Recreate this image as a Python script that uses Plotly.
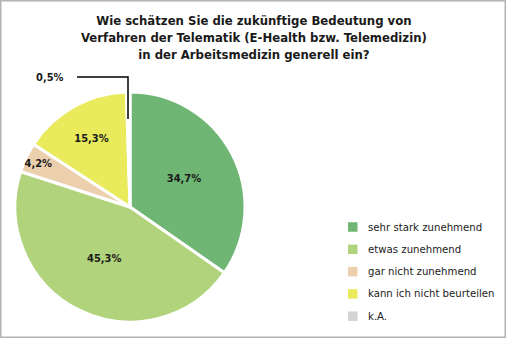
import plotly.graph_objects as go

title_lines = ["Wie schätzen Sie die zukünftige Bedeutung von",
               "Verfahren der Telematik (E-Health bzw. Telemedizin)",
               "in der Arbeitsmedizin generell ein?"]
categories = ["sehr stark zunehmend", "etwas zunehmend", "gar nicht zunehmend",
              "kann ich nicht beurteilen", "k.A."]
values = [34.7, 45.3, 4.2, 15.3, 0.5]
colors = ["#6fb573", "#b0d37b", "#ecd0ae", "#e9ea5c", "#d3d3d3"]

FONT = "DejaVu Sans Condensed, Liberation Sans, sans-serif"
W, H = 506, 338

templates = ["%{value:.1f}%" if v >= 1 else "" for v in values]

fig = go.Figure(go.Pie(
    labels=categories, values=values, sort=False, direction="clockwise", rotation=0,
    marker=dict(colors=colors, line=dict(color="white", width=3)),
    texttemplate=templates, textposition="inside", insidetextorientation="horizontal",
    textfont=dict(family=FONT, size=11, color="#1a1a1a", weight="bold"),
    hoverinfo="label+percent",
    domain=dict(x=[15 / W, 245 / W], y=[(H - 322) / H, (H - 92) / H]),
))

small = [f"{v:.1f}".replace(".", ",") + "%" for v in values if v < 1][0]

annotations = [
    dict(text="<br>".join(title_lines), x=254 / W, y=(H - 11) / H, xref="paper", yref="paper",
         xanchor="center", yanchor="top", showarrow=False,
         font=dict(family=FONT, size=13, color="#1a1a1a", weight="bold")),
    dict(text=small, x=50 / W, y=(H - 77) / H, xref="paper", yref="paper",
         xanchor="center", yanchor="middle", showarrow=False,
         font=dict(family=FONT, size=11, color="#1a1a1a", weight="bold")),
]
shapes = [
    dict(type="rect", xref="paper", yref="paper", x0=0, x1=1, y0=0, y1=1,
         line=dict(color="#b4b4b4", width=3)),
    dict(type="path", xref="paper", yref="paper",
         path=f"M {77/W} {(H-77)/H} L {128/W} {(H-77)/H} L {128/W} {(H-119)/H}",
         line=dict(color="black", width=1.5)),
]

# legend (drawn manually for exact spacing)
LEG_X, LEG_Y0, LEG_DY, SQ = 348, 227, 22.3, 9.5
for i, (lab, col) in enumerate(zip(categories, colors)):
    yc = LEG_Y0 + i * LEG_DY
    shapes.append(dict(type="rect", xref="paper", yref="paper",
                       x0=LEG_X / W, x1=(LEG_X + SQ) / W,
                       y0=(H - yc - SQ / 2) / H, y1=(H - yc + SQ / 2) / H,
                       fillcolor=col, line=dict(width=0)))
    annotations.append(dict(text=lab, x=366 / W, y=(H - yc) / H, xref="paper", yref="paper",
                            xanchor="left", yanchor="middle", showarrow=False,
                            font=dict(family=FONT, size=11.3, color="#222")))

fig.update_layout(
    width=W, height=H, margin=dict(l=0, r=0, t=0, b=0),
    paper_bgcolor="white", separators=",.",
    font=dict(family=FONT, color="#1a1a1a"),
    uniformtext=dict(minsize=11, mode="show"),
    showlegend=False,
    annotations=annotations,
    shapes=shapes,
)

fig.write_html("out.html")
